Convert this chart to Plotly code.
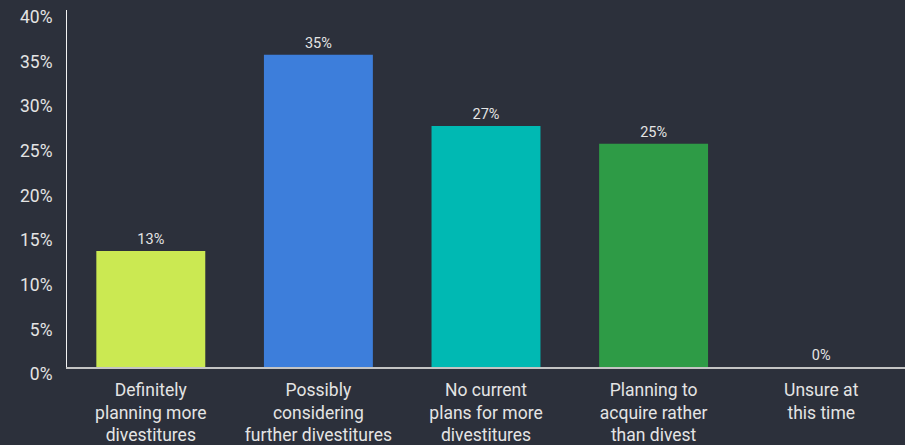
import plotly.graph_objects as go

# Survey responses on divestiture plans (share of respondents, %)
categories = [
    "Definitely<br>planning more<br>divestitures",
    "Possibly<br>considering<br>further divestitures",
    "No current<br>plans for more<br>divestitures",
    "Planning to<br>acquire rather<br>than divest",
    "Unsure at<br>this time",
]
shares = [13, 35, 27, 25, 0]
bar_colors = ["#cbe952", "#3d7edb", "#00b9b3", "#2e9b46", "#2e9b46"]
y_ticks = [0, 5, 10, 15, 20, 25, 30, 35, 40]
y_tick_labels = [f"{v}%" for v in y_ticks]

BG = "#2c303b"
TEXT = "#e4e4e4"
FONT = "Roboto"

fig = go.Figure(
    go.Bar(
        x=categories,
        y=shares,
        marker=dict(color=bar_colors, line=dict(width=0)),
        text=[f"{v}%" for v in shares],
        textposition="outside",
        textfont=dict(family=FONT, size=14.5, color=TEXT),
        cliponaxis=False,
        hoverinfo="skip",
    )
)

fig.update_layout(
    width=905,
    height=445,
    margin=dict(l=67, r=0, t=10, b=78),
    paper_bgcolor=BG,
    plot_bgcolor=BG,
    bargap=0.35,
    showlegend=False,
    font=dict(family=FONT, color=TEXT, size=17.5),
)

fig.update_xaxes(
    showgrid=False,
    zeroline=False,
    showline=True,
    linecolor="#c4c4c4",
    linewidth=1.5,
    ticks="",
    tickfont=dict(family=FONT, size=17.5, color=TEXT),
    ticklabelstandoff=6,
)

fig.update_yaxes(
    range=[0, 40],
    tickvals=y_ticks,
    ticktext=y_tick_labels,
    showgrid=False,
    zeroline=False,
    showline=True,
    linecolor="#f2f2f2",
    linewidth=1,
    ticks="",
    tickfont=dict(family=FONT, size=17.5, color=TEXT),
    ticklabelshift=7,
    ticklabelstandoff=10,
)

fig.write_html("out.html")
